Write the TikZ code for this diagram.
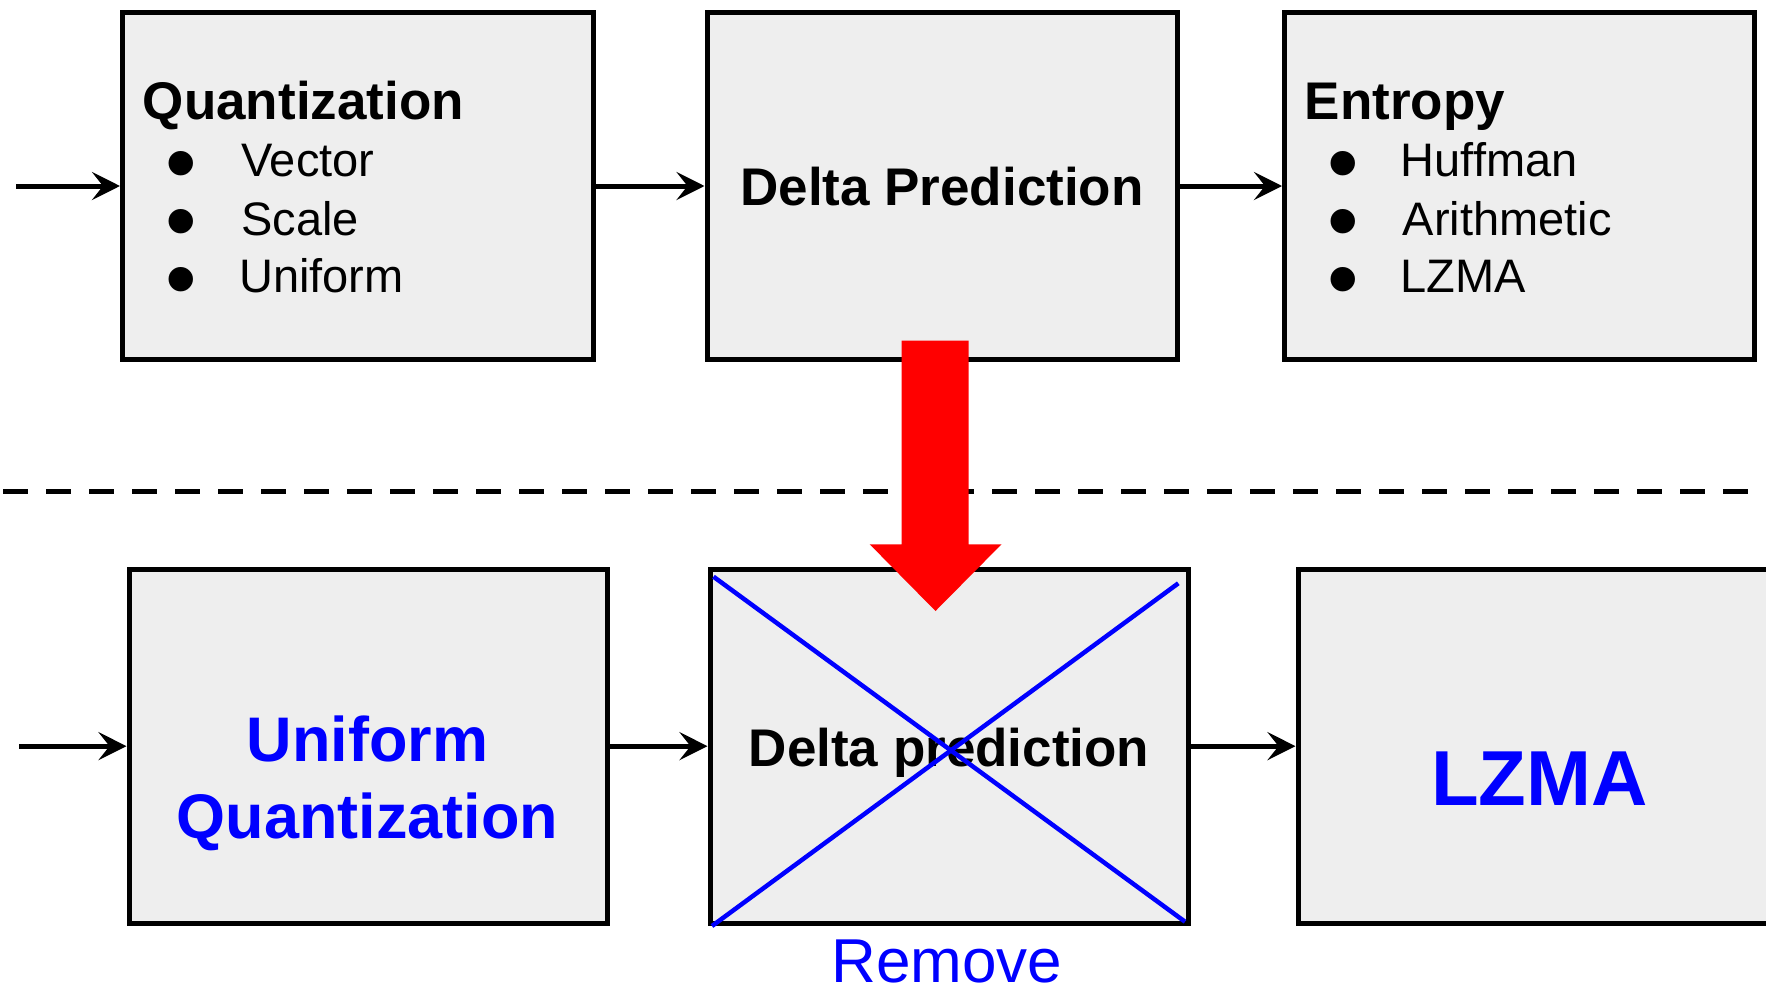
\documentclass[tikz,border=0pt]{standalone}
\usepackage{fontspec}
\setmainfont{Liberation Sans}
\usetikzlibrary{arrows.meta}
\definecolor{boxfill}{HTML}{EEEEEE}
\definecolor{pureblue}{HTML}{0000FF}
\definecolor{purered}{HTML}{FF0000}
\begin{document}
\begin{tikzpicture}[x=1pt,y=-1pt,
  blk/.style={draw=black, fill=boxfill, line width=5pt, rectangle, inner sep=0pt},
  conn/.style={line width=5pt, -{Stealth[length=28pt,width=28pt,inset=11pt]}},
  ttl/.style={font=\fontsize{53}{60}\selectfont\bfseries, inner sep=0pt, anchor=base west},
  itm/.style={font=\fontsize{47}{56}\selectfont, inner sep=0pt, anchor=base west},
  bul/.style={font=\fontsize{90}{90}\selectfont, inner sep=0pt, anchor=base, text height=0.5em, text depth=0pt},
  bigblue/.style={font=\fontsize{63}{70}\selectfont\bfseries, text=pureblue, inner sep=0pt, anchor=base},
  crossline/.style={draw=pureblue, line width=4.5pt},
  dashline/.style={line width=5pt, dash pattern=on 25pt off 18pt}
]
\path[use as bounding box, clip] (0,0) rectangle (1766,990);

% top row boxes
\node[blk, minimum width=470.5pt, minimum height=346pt] (Q) at (357.75,186) {};
\node[blk, minimum width=470pt, minimum height=346pt] (D) at (942,186) {};
\node[blk, minimum width=469.5pt, minimum height=346pt] (E) at (1519.25,186) {};

% bottom row boxes
\node[blk, minimum width=478.5pt, minimum height=353.7pt] (UQ) at (368.25,746.15) {};
\node[blk, minimum width=478pt, minimum height=353.7pt] (DB) at (949,746.15) {};
\node[blk, minimum width=484pt, minimum height=353.7pt] (LZ) at (1540,746.15) {};

% top texts
\node[ttl] (qt) at (142.7,119.3) {Quantization};
\node[bul] (qb1) at (181.4,193.1) {•};
\node[bul] (qb2) at (181.4,251.4) {•};
\node[bul] (qb3) at (181.4,309.1) {•};
\node[itm] (qi1) at (241,176.7) {Vector};
\node[itm] (qi2) at (241,235) {Scale};
\node[itm] (qi3) at (239,292.7) {Uniform};

\node[ttl, anchor=base] (dp) at (942,205) {Delta Prediction};

\node[ttl] (et) at (1304.6,119.3) {Entropy};
\node[bul] (eb1) at (1343.3,193.1) {•};
\node[bul] (eb2) at (1343.3,251.4) {•};
\node[bul] (eb3) at (1343.3,309.1) {•};
\node[itm] (ei1) at (1400.6,176.7) {Huffman};
\node[itm] (ei2) at (1402.6,235) {Arithmetic};
\node[itm] (ei3) at (1400.6,292.7) {LZMA};

% bottom texts
\node[bigblue] (u1) at (367.5,761.7) {Uniform};
\node[bigblue] (u2) at (367.5,838.3) {Quantization};
\node[ttl, anchor=base] (dpb) at (949,766.7) {Delta prediction};
\node[font=\fontsize{78}{80}\selectfont\bfseries, text=pureblue, inner sep=0pt, anchor=base] (lzt) at (1539.6,805) {LZMA};
\node[font=\fontsize{62}{70}\selectfont, text=pureblue, inner sep=0pt, anchor=base, text depth=0pt] (rm) at (946.7,982) {Remove};

% cross over removed block
\coordinate (xa1) at (713.5,576.7);
\coordinate (xa2) at (1185,921.7);
\coordinate (xb1) at (712,926);
\coordinate (xb2) at (1178.3,583.3);
\draw[crossline] (xa1) -- (xa2);
\draw[crossline] (xb1) -- (xb2);

% connectors
\coordinate (in1) at (16,186);
\coordinate (in2) at (19,746.15);
\draw[conn] (in1) -- (Q.west);
\draw[conn] (Q.east) -- (D.west);
\draw[conn] (D.east) -- (E.west);
\draw[conn] (in2) -- (UQ.west);
\draw[conn] (UQ.east) -- (DB.west);
\draw[conn] (DB.east) -- (LZ.west);

% dashed separator
\coordinate (dl) at (3,491);
\coordinate (dr) at (1766,491);
\draw[dashline] (dl) -- (dr);

% red arrow
\fill[purered] (901.5,340.7) -- (968.7,340.7) -- (968.7,544.3) -- (1001.5,544.3)
  -- (935.5,611) -- (869.7,544.3) -- (901.5,544.3) -- cycle;
\end{tikzpicture}
\end{document}
